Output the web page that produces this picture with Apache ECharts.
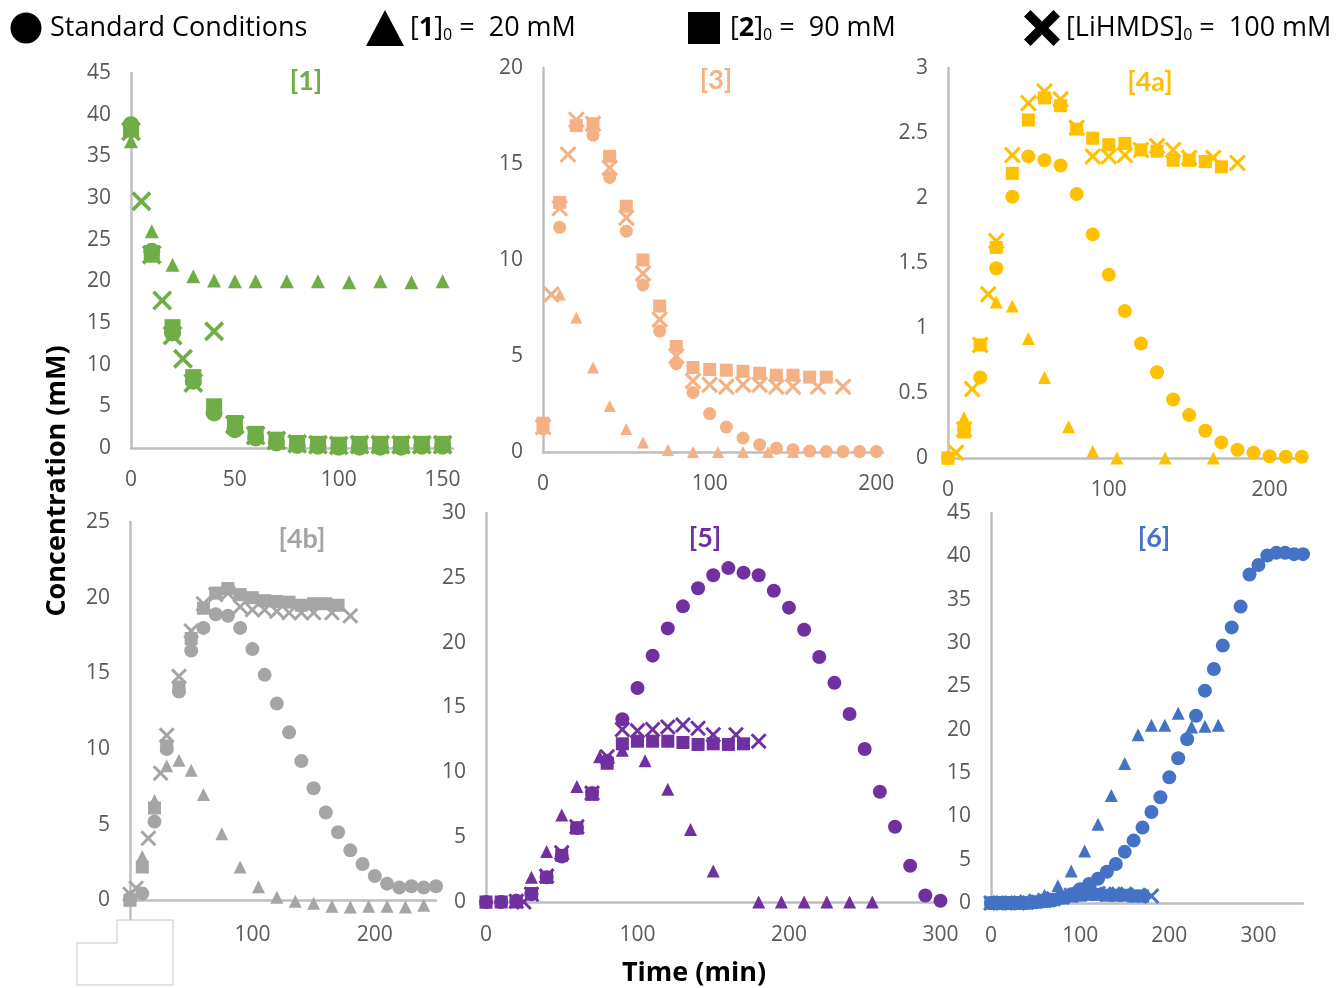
<!DOCTYPE html>
<html><head><meta charset="utf-8">
<script src="https://cdn.jsdelivr.net/npm/echarts@6/dist/echarts.min.js"></script>
<style>html,body{margin:0;padding:0;background:#fff;} #c{width:1343px;height:988px;}</style>
</head><body><div id="c"></div>
<script>
// ---------------- DATA ----------------
// Panel [1]
const p1_circle_t = [0,10,20,30,40,50,60,70,80,90,100,110,120,130,140,150];
const p1_circle_v = [38.8,23.6,13.8,8.0,4.2,2.2,1.2,0.6,0.3,0.2,0.1,0.1,0.1,0.1,0.2,0.2];
const p1_tri_t = [0,10,20,30,40,50,60,75,90,105,120,135,150];
const p1_tri_v = [36.8,26.0,22.0,20.6,20.1,20.0,20.0,20.0,20.0,19.9,20.0,19.9,20.0];
const p1_sq_t = [0,10,20,30,40,50,60,70,80,90,100,110,120,130,140,150];
const p1_sq_v = [38.2,23.2,14.5,8.5,5.0,3.0,1.7,1.0,0.6,0.5,0.4,0.5,0.5,0.5,0.5,0.5];
const p1_x_t = [0,5,10,15,20,25,30,40,50,60,70,80,90,100,110,120,130,140,150];
const p1_x_v = [38.0,29.6,23.2,17.7,13.5,10.7,7.8,14.0,2.8,1.5,0.9,0.5,0.4,0.3,0.4,0.4,0.4,0.4,0.4];

// Panel [3]
const p2_circle_t = [0,10,20,30,40,50,60,70,80,90,100,110,120,130,140,150,160,170,180,190,200];
const p2_circle_v = [1.2,11.7,17.0,16.5,14.3,11.5,8.7,6.3,4.6,3.1,2.0,1.3,0.73,0.38,0.2,0.12,0.05,0.02,0.02,0.02,0.02];
const p2_tri_t = [0,10,20,30,40,50,60,75,90,105,120,135,150];
const p2_tri_v = [1.3,8.2,7.0,4.4,2.4,1.2,0.5,0.1,0,0,0,0,0];
const p2_sq_t = [0,10,20,30,40,50,60,70,80,90,100,110,120,130,140,150,160,170];
const p2_sq_v = [1.5,13.0,17.0,17.1,15.4,12.8,10.0,7.6,5.5,4.4,4.3,4.26,4.2,4.1,4.0,4.0,3.9,3.9];
const p2_x_t = [0,5,10,15,20,30,40,50,60,70,80,90,100,110,120,130,140,150,165,180];
const p2_x_v = [1.3,8.2,12.7,15.5,17.3,17.1,14.8,12.2,9.3,6.9,5.0,3.7,3.5,3.4,3.5,3.5,3.4,3.4,3.4,3.4];

// Panel [4a]
const p3_circle_t = [0,10,20,30,40,50,60,70,80,90,100,110,120,130,140,150,160,170,180,190,200,210,220];
const p3_circle_v = [0,0.22,0.62,1.46,2.01,2.32,2.29,2.25,2.03,1.72,1.41,1.13,0.88,0.66,0.45,0.33,0.21,0.12,0.064,0.04,0.013,0.01,0.01];
const p3_tri_t = [0,10,30,40,50,60,75,90,105,135,165];
const p3_tri_v = [0,0.31,1.2,1.17,0.92,0.62,0.24,0.05,0,0,0];
const p3_sq_t = [0,10,20,30,40,50,60,70,80,90,100,110,120,130,140,150,160,170];
const p3_sq_v = [0,0.2,0.87,1.62,2.19,2.6,2.77,2.71,2.53,2.46,2.41,2.42,2.37,2.36,2.29,2.29,2.28,2.24];
const p3_x_t = [5,10,15,20,25,30,40,50,60,70,80,90,100,110,120,130,140,150,165,180];
const p3_x_v = [0.04,0.22,0.53,0.87,1.26,1.67,2.33,2.73,2.82,2.76,2.54,2.32,2.32,2.33,2.37,2.4,2.37,2.31,2.31,2.27];

// Panel [4b]
const p4_circle_t = [0,10,20,30,40,50,60,70,80,90,100,110,120,130,140,150,160,170,180,190,200,210,220,230,240,250];
const p4_circle_v = [0.1,0.45,5.2,10.0,13.8,16.5,18.0,18.9,18.8,18.0,16.6,14.9,13.0,11.1,9.2,7.4,5.8,4.5,3.3,2.4,1.6,1.1,0.84,0.93,0.84,0.93];
const p4_tri_t = [0,10,20,30,40,50,60,75,90,105,120,135,150,165,180,195,210,225,240];
const p4_tri_v = [0.3,2.9,6.6,8.9,9.25,8.6,7.0,4.4,2.2,0.9,0.2,-0.07,-0.2,-0.4,-0.44,-0.4,-0.4,-0.44,-0.33];
const p4_sq_t = [0,10,20,30,40,50,60,70,80,90,100,110,120,130,140,150,160,170];
const p4_sq_v = [0,2.2,6.1,10.2,14.1,17.3,19.3,20.3,20.6,20.2,20.0,19.8,19.75,19.7,19.5,19.6,19.6,19.5];
const p4_x_t = [0,5,15,25,30,40,50,60,70,80,90,100,110,120,130,140,150,165,180];
const p4_x_v = [0.4,0.8,4.1,8.4,10.9,14.8,17.8,19.6,20.2,20.3,19.4,19.2,19.2,19.1,19.0,19.0,19.0,19.0,18.8];

// Panel [5]
const p5_circle_t = [0,10,20,30,40,50,60,70,80,90,100,110,120,130,140,150,160,170,180,190,200,210,220,230,240,250,260,270,280,290,300];
const p5_circle_v = [0,0,0.1,0.6,1.9,3.5,5.7,8.4,10.9,14.1,16.5,19.0,21.1,22.8,24.2,25.2,25.75,25.4,25.2,24.0,22.7,21.0,18.9,16.9,14.5,11.8,8.5,5.8,2.8,0.5,0.1];
const p5_tri_t = [0,20,30,40,50,60,75,90,105,120,135,150,180,195,210,225,240,255];
const p5_tri_v = [0,0.2,1.9,3.9,6.7,8.9,11.2,11.7,10.9,8.7,5.6,2.4,0,0,0,0,0,0];
const p5_sq_t = [0,10,20,30,40,50,60,70,80,90,100,110,120,130,140,150,160,170];
const p5_sq_v = [0,0,0,0.65,1.9,3.6,5.7,8.3,10.7,12.2,12.4,12.4,12.4,12.3,12.15,12.2,12.15,12.2];
const p5_x_t = [20,25,30,40,50,60,70,80,90,100,110,120,130,140,150,165,180];
const p5_x_v = [0.05,0,0.6,2.0,3.8,5.8,8.4,11.2,13.3,13.2,13.3,13.5,13.65,13.4,12.9,12.9,12.4];

// Panel [6]
const p6_circle_t = [0,10,20,30,40,50,60,70,80,90,100,110,120,130,140,150,160,170,180,190,200,210,220,230,240,250,260,270,280,290,300,310,320,330,340,350];
const p6_circle_v = [0,0,0,0,0,0.1,0.2,0.3,0.6,1.0,1.6,2.2,2.8,3.6,4.5,5.9,7.2,8.7,10.5,12.2,14.5,16.7,18.9,21.6,24.5,27.0,29.7,31.8,34.2,37.9,39.0,40.1,40.4,40.4,40.25,40.25];
const p6_tri_t = [0,15,30,45,60,75,90,105,120,135,150,165,180,195,210,225,240,255];
const p6_tri_v = [0,0,0,0.1,0.9,2.0,3.7,6.0,9.1,12.4,16.1,19.4,20.5,20.5,21.9,20.3,20.4,20.5];
const p6_sq_t = [0,10,20,30,40,50,60,70,80,90,100,110,120,130,140,150,160,170];
const p6_sq_v = [0,0,0,0,0,0.1,0.2,0.4,0.6,0.8,0.9,1.0,1.0,0.9,0.9,0.9,0.8,0.8];
const p6_x_t = [0,10,20,30,40,50,60,70,80,90,100,110,120,130,140,150,165,180];
const p6_x_v = [0,0,0,0,0.1,0.2,0.3,0.5,0.7,0.9,1.1,1.2,1.1,1.0,1.0,1.0,0.9,0.8];

// Titles & tick labels
const panelTitles = ['[1]','[3]','[4a]','[4b]','[5]','[6]'];
const legendNames = ['Standard Conditions','[1]0 = 20 mM','[2]0 = 90 mM','[LiHMDS]0 = 100 mM'];
const xTicks = [[0,50,100,150],[0,100,200],[0,100,200],[0,100,200],[0,100,200,300],[0,100,200,300]];
const yTicks = [[0,5,10,15,20,25,30,35,40,45],[0,5,10,15,20],[0,0.5,1,1.5,2,2.5,3],[0,5,10,15,20,25],[0,5,10,15,20,25,30],[0,5,10,15,20,25,30,35,40,45]];
const xRange = [[0,155],[0,204],[0,222],[0,250],[0,303],[0,350]];
const yRange = [[0,45],[0,20],[0,3],[-1.5,25],[0,30],[0,45]];

// ---------------- LAYOUT / STYLE ----------------
const colors = ['#70AD47','#F4B183','#FFC000','#A5A5A5','#7030A0','#4472C4'];
const grids = [
  {left:131, top:73, width:322, height:375},
  {left:543, top:68, width:340, height:384},
  {left:948, top:68, width:357, height:390},
  {left:130, top:522, width:306, height:401},
  {left:486, top:513, width:459, height:389},
  {left:991, top:513, width:312, height:390}
];
const xLabelMargin = [22,22,22,2,23,23];
const titlePos = [[306,81],[716,80],[1150,82],[302,539],[705,538],[1154,538]];
const sizes = [
  [17,14,16,20],[13,12,13,17],[14,13,13,17],[14,13,13,16],[14,13,13,16],[14,13,13,16]
];
const X_PATH = 'path://M0,2.6 L2.6,0 L10,7.4 L17.4,0 L20,2.6 L12.6,10 L20,17.4 L17.4,20 L10,12.6 L2.6,20 L0,17.4 L7.4,10 Z';
const symbols = ['circle','triangle','rect',X_PATH];

const panelData = [
  [[p1_circle_t,p1_circle_v],[p1_tri_t,p1_tri_v],[p1_sq_t,p1_sq_v],[p1_x_t,p1_x_v]],
  [[p2_circle_t,p2_circle_v],[p2_tri_t,p2_tri_v],[p2_sq_t,p2_sq_v],[p2_x_t,p2_x_v]],
  [[p3_circle_t,p3_circle_v],[p3_tri_t,p3_tri_v],[p3_sq_t,p3_sq_v],[p3_x_t,p3_x_v]],
  [[p4_circle_t,p4_circle_v],[p4_tri_t,p4_tri_v],[p4_sq_t,p4_sq_v],[p4_x_t,p4_x_v]],
  [[p5_circle_t,p5_circle_v],[p5_tri_t,p5_tri_v],[p5_sq_t,p5_sq_v],[p5_x_t,p5_x_v]],
  [[p6_circle_t,p6_circle_v],[p6_tri_t,p6_tri_v],[p6_sq_t,p6_sq_v],[p6_x_t,p6_x_v]]
];

const AXIS_COLOR = '#BFBFBF';
const LABEL_FONT = '"Open Sans", "Noto Sans", sans-serif';
const pairs = (t, v) => t.map((x, i) => [x, v[i]]);

const gridOpts = [], xAxes = [], yAxes = [], series = [];
grids.forEach((g, p) => {
  gridOpts.push(Object.assign({outerBoundsMode:'none', containLabel:false}, g));
  xAxes.push({
    type:'value', gridIndex:p, min:xRange[p][0], max:xRange[p][1],
    axisLine:{show:true, onZero:true, lineStyle:{color:AXIS_COLOR, width:2.5}},
    axisTick:{show:false}, splitLine:{show:false},
    axisLabel:{customValues:xTicks[p], color:'#595959', fontSize:21, fontFamily:LABEL_FONT, margin:xLabelMargin[p]}
  });
  yAxes.push({
    type:'value', gridIndex:p, min:yRange[p][0], max:yRange[p][1],
    axisLine:{show:true, onZero:false, lineStyle:{color:AXIS_COLOR, width:2.5}},
    axisTick:{show:false}, splitLine:{show:false},
    axisLabel:{customValues:yTicks[p], color:'#595959', fontSize:21, fontFamily:LABEL_FONT, margin:20}
  });
  panelData[p].forEach((d, s) => {
    series.push({
      type:'scatter', name:legendNames[s], xAxisIndex:p, yAxisIndex:p,
      symbol:symbols[s], symbolSize:sizes[p][s], clip:false,
      itemStyle:{color:colors[p], opacity:1},
      data:pairs(d[0], d[1]), z:2+s
    });
  });
});

// graphic: titles, axis names, legend, white box
const graphic = [];
panelTitles.forEach((t, p) => {
  graphic.push({type:'text', x:titlePos[p][0], y:titlePos[p][1], z:50,
    style:{text:t, fill:colors[p], font:'bold 27px Lato, "Open Sans", sans-serif', textAlign:'center', textVerticalAlign:'middle'}});
});
graphic.push({type:'text', x:57, y:481, rotation:Math.PI/2, z:50,
  style:{text:'Concentration (mM)', fill:'#000', font:'bold 27px "Open Sans", sans-serif', textAlign:'center', textVerticalAlign:'middle'}});
graphic.push({type:'text', x:694, y:973, z:50,
  style:{text:'Time (min)', fill:'#000', font:'bold 27px "Open Sans", sans-serif', textAlign:'center', textVerticalAlign:'middle'}});

// legend markers
graphic.push({type:'circle', shape:{cx:26, cy:28, r:15.5}, style:{fill:'#000'}, z:50});
graphic.push({type:'polygon', shape:{points:[[385,10],[404,46],[366,46]]}, style:{fill:'#000'}, z:50});
graphic.push({type:'rect', shape:{x:688, y:12, width:32, height:32}, style:{fill:'#000'}, z:50});
(function(){
  const cx = 1042, cy = 28, s = 18, t = 6.5;
  const rel = [[-s,-s+t],[-s+t,-s],[0,-t],[s-t,-s],[s,-s+t],[t,0],[s,s-t],[s-t,s],[0,t],[-s+t,s],[-s,s-t],[-t,0]];
  graphic.push({type:'polygon', shape:{points:rel.map(q=>[cx+q[0], cy+q[1]])}, style:{fill:'#000'}, z:50});
})();
const LEG_FONT = '"Open Sans", "Noto Sans", sans-serif';
const rich = {
  n:{fontSize:27, fontFamily:LEG_FONT, color:'#000'},
  b:{fontSize:27, fontFamily:LEG_FONT, fontWeight:'bold', color:'#000'},
  s:{fontSize:16, fontFamily:LEG_FONT, color:'#000', padding:[14,0,0,0]}
};
const legTexts = [
  [50, '{n|Standard Conditions}'],
  [410, '{n|[}{b|1}{n|]}{s|0}{n| =  20 mM}'],
  [730, '{n|[}{b|2}{n|]}{s|0}{n| =  90 mM}'],
  [1066, '{n|[LiHMDS]}{s|0}{n| =  100 mM}']
];
legTexts.forEach(lt => {
  graphic.push({type:'text', x:lt[0], y:28, z:50,
    style:{text:lt[1], rich:rich, fill:'#000', font:'27px '+LEG_FONT, textAlign:'left', textVerticalAlign:'middle'}});
});

// white box artifact over panel [4b]
graphic.push({type:'polygon', z:60,
  shape:{points:[[117,920],[173,920],[173,985],[77,985],[77,943],[117,943]]},
  style:{fill:'#fff', stroke:'#C8C8C8', lineWidth:1}});

const chart = echarts.init(document.getElementById('c'), null, {renderer:'canvas'});
chart.setOption({
  backgroundColor:'#fff',
  animation:false,
  grid:gridOpts, xAxis:xAxes, yAxis:yAxes, series:series,
  graphic:graphic
});
</script>
</body></html>
